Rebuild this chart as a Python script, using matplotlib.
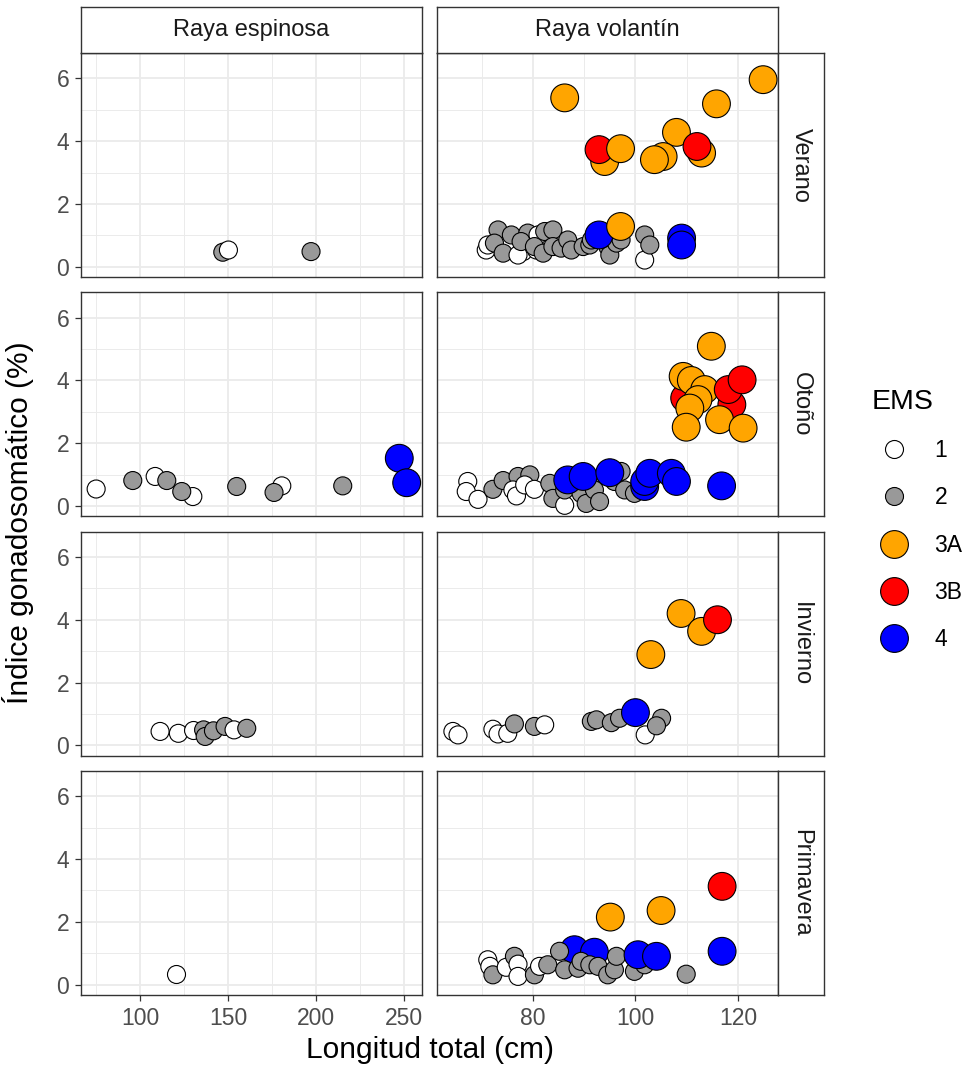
import numpy as np
import matplotlib.pyplot as plt
from matplotlib.lines import Line2D

plt.rcParams['font.family'] = ['Liberation Sans', 'DejaVu Sans']

# --- datos por panel: longitud total (cm), IGS (%), estadio de madurez (EMS) ---
espinosa_verano_lt = [146.9, 150.1, 197.0]
espinosa_verano_igs = [0.46, 0.53, 0.48]
espinosa_verano_ems = ['2', '1', '2']

volantin_verano_lt = [70.9, 71.2, 73.2, 75.8, 72.5, 74.2, 78.1, 77.1, 79.0, 77.7, 81.0, 80.7, 80.3,
                      82.3, 83.9, 82.0, 83.9, 85.5, 86.8, 87.5, 89.8, 91.1, 91.4, 93.3, 94.6, 95.0,
                      96.3, 97.2, 101.8, 101.8, 102.8,
                      86.2, 124.9, 115.8, 108.0, 94.0, 92.9, 97.1, 105.4, 103.7, 112.9, 112.0,
                      92.9, 97.1, 109.0, 109.0]
volantin_verano_igs = [0.53, 0.69, 1.17, 1.01, 0.75, 0.43, 0.48, 0.37, 1.07, 0.80, 1.01, 0.53, 0.64,
                       1.12, 1.17, 0.43, 0.64, 0.59, 0.85, 0.53, 0.64, 0.69, 0.85, 0.91, 0.64, 0.37,
                       0.75, 0.85, 0.21, 1.01, 0.69,
                       5.38, 5.96, 5.19, 4.28, 3.35, 3.73, 3.76, 3.51, 3.41, 3.62, 3.83,
                       1.01, 1.28, 0.91, 0.69]
volantin_verano_ems = ['1', '1', '2', '2', '2', '2', '1', '1', '2', '2', '1', '1', '2',
                       '2', '2', '2', '2', '2', '2', '2', '2', '2', '2', '2', '2', '2',
                       '2', '2', '1', '2', '2',
                       '3A', '3A', '3A', '3A', '3A', '3B', '3A', '3A', '3A', '3A', '3B',
                       '4', '3A', '4', '4']

espinosa_otono_lt = [75.0, 95.8, 108.5, 115.1, 129.9, 123.6, 154.8, 180.4, 176.0, 215.0, 247.1, 251.3]
espinosa_otono_igs = [0.54, 0.81, 0.94, 0.81, 0.30, 0.46, 0.62, 0.64, 0.43, 0.64, 1.52, 0.74]
espinosa_otono_ems = ['1', '2', '1', '2', '1', '2', '2', '1', '2', '2', '4', '4']

volantin_otono_lt = [67.3, 67.0, 69.3, 72.2, 74.2, 77.1, 79.4, 76.1, 76.8, 78.4, 80.3, 83.3, 83.9,
                     86.2, 86.2, 88.1, 89.4, 90.4, 91.1, 92.0, 93.0, 95.9, 97.9, 97.2, 99.8,
                     86.8, 89.8, 95.0, 101.8, 101.8, 102.8, 107.0, 108.0, 116.8,
                     114.8, 109.6, 109.3, 110.9, 113.5, 112.2, 110.6, 118.8, 118.1, 120.8,
                     109.9, 116.4, 121.0]
volantin_otono_igs = [0.78, 0.46, 0.21, 0.53, 0.81, 0.94, 0.99, 0.51, 0.32, 0.67, 0.53, 0.72, 0.24,
                      0.02, 0.51, 0.72, 0.40, 0.08, 0.78, 0.51, 0.14, 0.78, 0.51, 1.10, 0.40,
                      0.83, 0.94, 1.06, 0.62, 0.78, 1.04, 1.04, 0.78, 0.64,
                      5.09, 3.44, 4.13, 4.00, 3.71, 3.39, 3.12, 3.23, 3.71, 4.02,
                      2.51, 2.75, 2.48]
volantin_otono_ems = ['1', '1', '1', '2', '2', '2', '2', '1', '1', '1', '1', '2', '2',
                      '1', '2', '2', '2', '2', '2', '2', '2', '2', '2', '2', '2',
                      '4', '4', '4', '4', '4', '4', '4', '4', '4',
                      '3A', '3B', '3A', '3A', '3A', '3A', '3A', '3B', '3B', '3B',
                      '3A', '3A', '3A']

espinosa_invierno_lt = [111.3, 121.7, 130.3, 136.0, 136.9, 141.6, 148.2, 153.3, 160.5]
espinosa_invierno_igs = [0.44, 0.38, 0.47, 0.49, 0.28, 0.46, 0.60, 0.49, 0.54]
espinosa_invierno_ems = ['1', '1', '1', '2', '2', '2', '2', '1', '2']

volantin_invierno_lt = [64.4, 65.4, 72.2, 73.2, 75.1, 76.4, 80.3, 82.3, 91.4, 92.4, 95.3, 96.9,
                        101.9, 105.1, 104.1, 100.0, 103.0, 108.9, 112.9, 116.0]
volantin_invierno_igs = [0.44, 0.33, 0.51, 0.36, 0.38, 0.68, 0.60, 0.65, 0.76, 0.81, 0.72, 0.86,
                         0.33, 0.86, 0.62, 1.04, 2.89, 4.20, 3.63, 4.00]
volantin_invierno_ems = ['1', '1', '1', '1', '1', '2', '2', '1', '2', '2', '2', '2',
                         '1', '2', '2', '4', '3A', '3A', '3A', '3B']

espinosa_primavera_lt = [120.2]
espinosa_primavera_igs = [0.33]
espinosa_primavera_ems = ['1']

volantin_primavera_lt = [88.1, 92.0,
                         71.2, 71.6, 72.2, 74.8, 76.4, 77.1, 77.1, 80.3, 81.3, 82.9, 85.2, 86.2,
                         88.8, 89.4, 91.1, 92.7, 94.6, 95.9, 96.3, 99.8, 101.8, 109.9,
                         100.5, 104.1, 116.9, 95.1, 105.0, 116.9]
volantin_primavera_igs = [1.11, 1.03,
                          0.79, 0.58, 0.31, 0.55, 0.90, 0.65, 0.26, 0.31, 0.58, 0.63, 1.06, 0.47,
                          0.52, 0.74, 0.63, 0.58, 0.31, 0.47, 0.90, 0.42, 0.63, 0.33,
                          0.95, 0.90, 1.06, 2.15, 2.36, 3.13]
volantin_primavera_ems = ['4', '4',
                          '1', '1', '2', '1', '2', '1', '1', '2', '1', '2', '2', '2',
                          '2', '2', '2', '2', '2', '2', '2', '2', '2', '2',
                          '4', '4', '4', '3A', '3A', '3B']

especies = ['Raya espinosa', 'Raya volantín']
estaciones = ['Verano', 'Otoño', 'Invierno', 'Primavera']

paneles = {
    ('Raya espinosa', 'Verano'): (espinosa_verano_lt, espinosa_verano_igs, espinosa_verano_ems),
    ('Raya volantín', 'Verano'): (volantin_verano_lt, volantin_verano_igs, volantin_verano_ems),
    ('Raya espinosa', 'Otoño'): (espinosa_otono_lt, espinosa_otono_igs, espinosa_otono_ems),
    ('Raya volantín', 'Otoño'): (volantin_otono_lt, volantin_otono_igs, volantin_otono_ems),
    ('Raya espinosa', 'Invierno'): (espinosa_invierno_lt, espinosa_invierno_igs, espinosa_invierno_ems),
    ('Raya volantín', 'Invierno'): (volantin_invierno_lt, volantin_invierno_igs, volantin_invierno_ems),
    ('Raya espinosa', 'Primavera'): (espinosa_primavera_lt, espinosa_primavera_igs, espinosa_primavera_ems),
    ('Raya volantín', 'Primavera'): (volantin_primavera_lt, volantin_primavera_igs, volantin_primavera_ems),
}

ems_niveles = ['1', '2', '3A', '3B', '4']
ems_colores = {'1': 'white', '2': '#999999', '3A': '#FFA500', '3B': '#FF0000', '4': '#0000FF'}
ems_tamanos = {'1': 168, '2': 168, '3A': 400, '3B': 400, '4': 400}

# escalas x libres por especie, y comun
xlims = {'Raya espinosa': (66.4, 260.0), 'Raya volantín': (61.3, 127.8)}
xmajor = {'Raya espinosa': [100, 150, 200, 250], 'Raya volantín': [80, 100, 120]}
xminor = {'Raya espinosa': [75, 125, 175, 225], 'Raya volantín': [70, 90, 110]}
ylim = (-0.33, 6.81)

W, H = 967, 1069
fig = plt.figure(figsize=(W / 100, H / 100), dpi=100)

col_x = [81, 437]
col_w = 341
row_top = [53, 292.3, 531.6, 770.9]
row_h = 224
borde = '#333333'


def px_box(x0, y0, w, h):
    return [x0 / W, 1 - (y0 + h) / H, w / W, h / H]


for i, est in enumerate(estaciones):
    for j, esp in enumerate(especies):
        ax = fig.add_axes(px_box(col_x[j], row_top[i], col_w, row_h))
        lt, igs, ems = paneles[(esp, est)]
        ax.scatter(lt, igs, s=[ems_tamanos[e] for e in ems],
                   c=[ems_colores[e] for e in ems], edgecolors='black',
                   linewidths=0.8, zorder=3)
        ax.set_xlim(*xlims[esp])
        ax.set_ylim(*ylim)
        ax.set_xticks(xmajor[esp])
        ax.set_xticks(xminor[esp], minor=True)
        ax.set_yticks([0, 2, 4, 6])
        ax.set_yticks([1, 3, 5], minor=True)
        ax.grid(which='major', color='#EBEBEB', lw=1.3, zorder=0)
        ax.grid(which='minor', color='#EBEBEB', lw=0.7, zorder=0)
        ax.set_axisbelow(True)
        for sp in ax.spines.values():
            sp.set_color(borde)
            sp.set_linewidth(1.0)
        ax.tick_params(which='minor', length=0)
        ax.tick_params(which='major', length=4.5, width=0.9, color=borde,
                       labelsize=16.5, labelcolor='#4D4D4D', pad=4)
        if j > 0:
            ax.tick_params(axis='y', left=False, labelleft=False)
        if i < len(estaciones) - 1:
            ax.tick_params(axis='x', bottom=False, labelbottom=False)

        # franja derecha con la estacion
        if j == len(especies) - 1:
            sx = fig.add_axes(px_box(col_x[j] + col_w, row_top[i], 46, row_h))
            sx.set_xticks([])
            sx.set_yticks([])
            for sp in sx.spines.values():
                sp.set_color(borde)
                sp.set_linewidth(1.0)
            sx.text(0.5, 0.5, est, rotation=-90, ha='center', va='center',
                    fontsize=17, color='#1A1A1A', transform=sx.transAxes)

# franjas superiores con la especie
for j, esp in enumerate(especies):
    st = fig.add_axes(px_box(col_x[j], 7, col_w, 46))
    st.set_xticks([])
    st.set_yticks([])
    for sp in st.spines.values():
        sp.set_color(borde)
        sp.set_linewidth(1.0)
    st.text(0.5, 0.5, esp, ha='center', va='center', fontsize=17,
            color='#1A1A1A', transform=st.transAxes)

fig.text((81 + 778) / 2 / W, 1 - 1050 / H, 'Longitud total (cm)', ha='center',
         va='center', fontsize=21.5)
fig.text(18 / W, 1 - 523 / H, 'Índice gonadosomático (%)', ha='center',
         va='center', rotation=90, fontsize=21.5)

handles = [Line2D([], [], ls='none', marker='o', markerfacecolor=ems_colores[e],
                  markeredgecolor='black', markeredgewidth=0.8,
                  markersize=np.sqrt(ems_tamanos[e])) for e in ems_niveles]
leg = fig.legend(handles, ems_niveles, title='EMS', loc='center left',
                 bbox_to_anchor=(860 / W, 1 - 520 / H), frameon=False,
                 fontsize=16.5, title_fontsize=20.5, labelspacing=1.05,
                 handletextpad=0.75, borderpad=0)
leg._legend_box.align = 'left'

fig.savefig('out.png', dpi=100)
